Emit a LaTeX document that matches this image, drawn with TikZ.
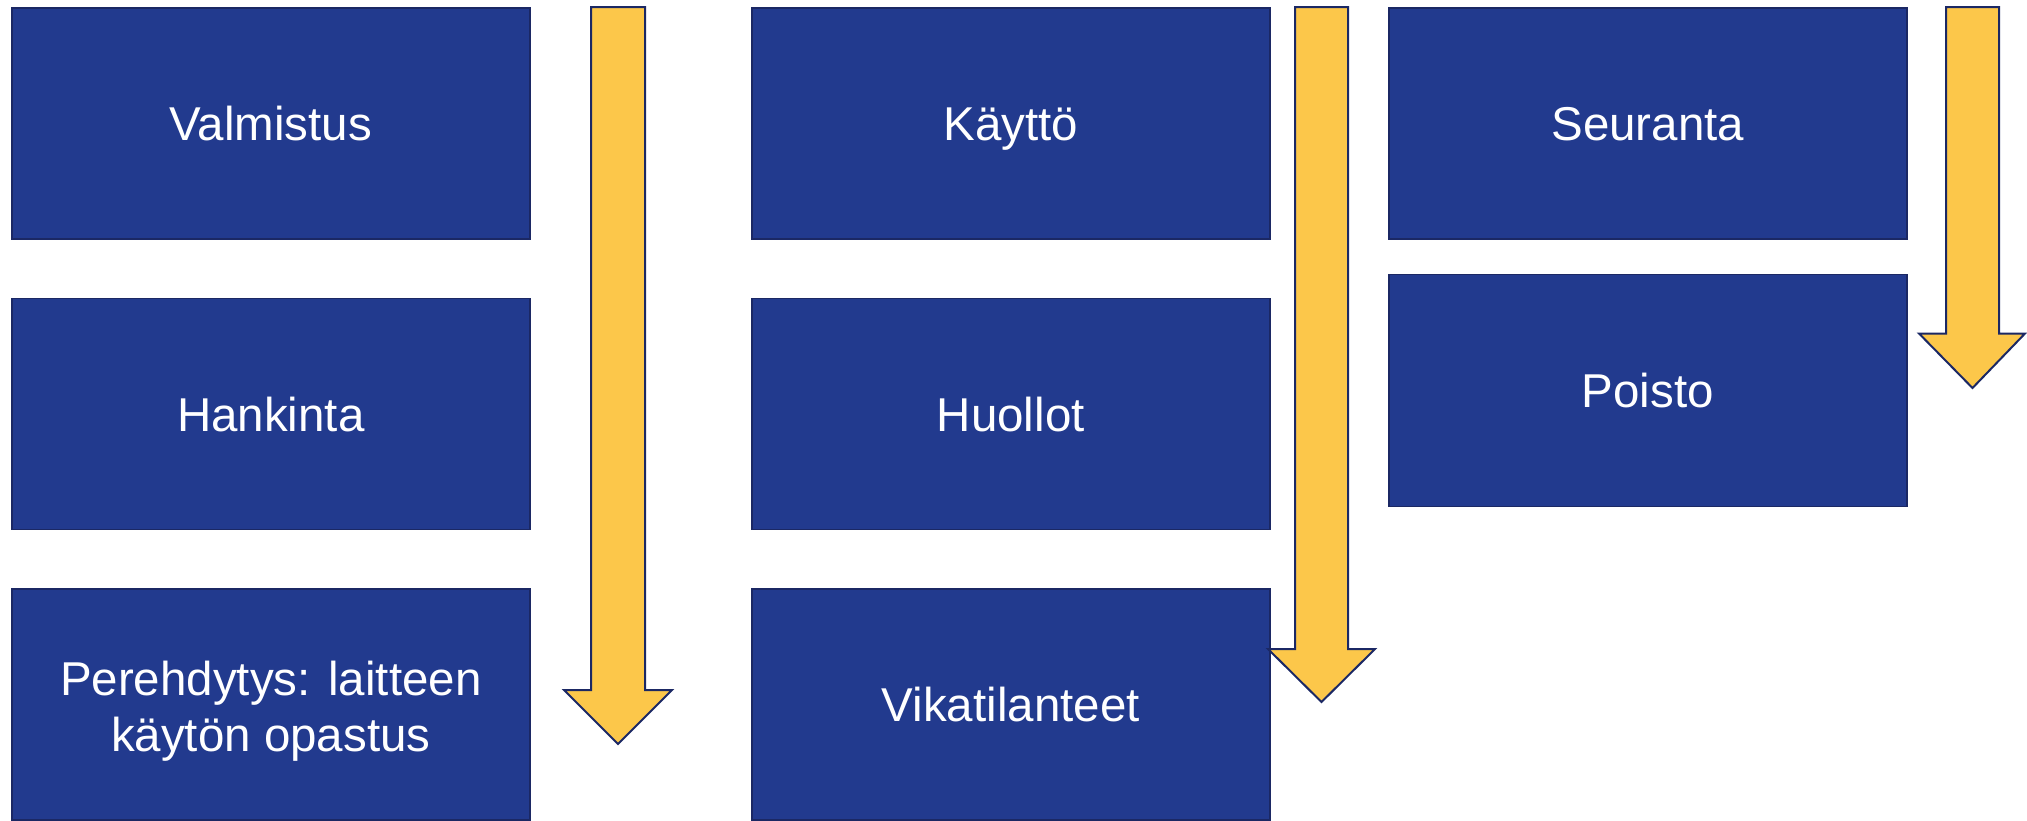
\documentclass[tikz,border=0pt]{standalone}
\usepackage{fontspec}
\setmainfont{Liberation Sans}
\definecolor{boxblue}{RGB}{34,58,142}
\definecolor{edgeblue}{RGB}{27,40,100}
\definecolor{arrowyellow}{RGB}{252,199,74}
\tikzset{
  stagebox/.style={rectangle, draw=edgeblue, line width=1.6pt, fill=boxblue,
    minimum width=518pt, minimum height=231pt, inner sep=0pt, anchor=north west,
    text=white, align=center, font=\fontsize{47.5}{56}\selectfont},
  oneline/.style={text height=34.5pt, text depth=0pt},
  blockarrow/.style={draw=edgeblue, line width=2pt, fill=arrowyellow, line join=miter}
}
\begin{document}
\begin{tikzpicture}[x=1pt,y=-1pt]
\useasboundingbox (0,0) rectangle (2027,820);
% column 1
\node[stagebox, oneline] (valmistus) at (11,7) {Valmistus};
\node[stagebox, oneline] (hankinta) at (11,297.5) {Hankinta};
\node[stagebox] (perehdytys) at (11,588) {};
\node[text=white, align=center, font=\fontsize{47.5}{56}\selectfont, inner sep=0pt, yshift=-7pt] (perehdytysteksti) at (perehdytys.center) {Perehdytys: laitteen\\käytön opastus};
% column 2
\node[stagebox, oneline] (kaytto) at (751,7) {Käyttö};
\node[stagebox, oneline] (huollot) at (751,297.5) {Huollot};
\node[stagebox, oneline] (vika) at (751,588) {Vikatilanteet};
% column 3
\node[stagebox, oneline] (seuranta) at (1388,7) {Seuranta};
\node[stagebox, oneline, minimum height=232pt] (poisto) at (1388,273.5) {Poisto};
% block arrows
\draw[blockarrow] (591,7) -- (645,7) -- (645,690) -- (672,690) -- (618,744) -- (564,690) -- (591,690) -- cycle;
\draw[blockarrow] (1295,7) -- (1348,7) -- (1348,649) -- (1375,649) -- (1321.5,702) -- (1268,649) -- (1295,649) -- cycle;
\draw[blockarrow] (1946,7) -- (1999,7) -- (1999,333.5) -- (2025,333.5) -- (1972.5,388) -- (1919,333.5) -- (1946,333.5) -- cycle;
\end{tikzpicture}
\end{document}
